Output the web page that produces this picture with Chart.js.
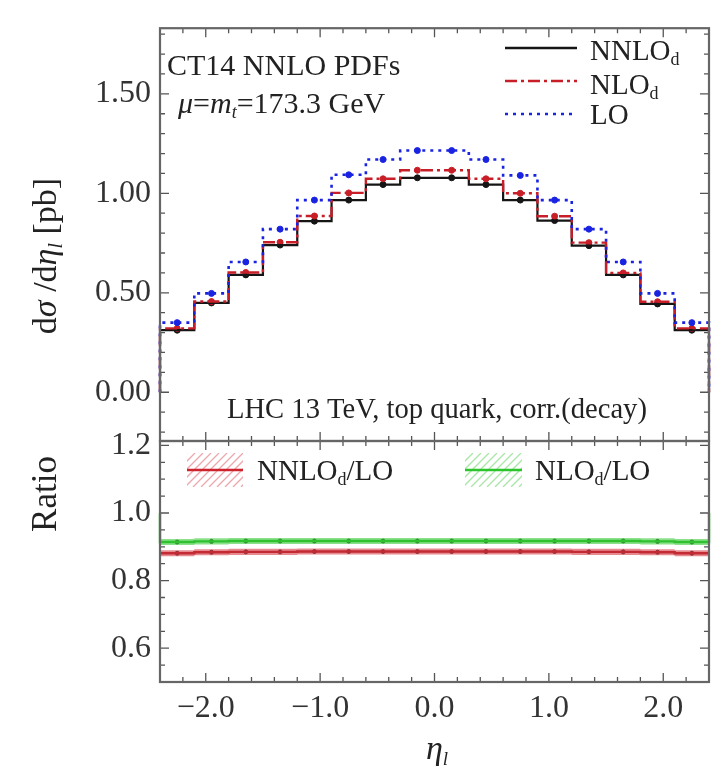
<!DOCTYPE html>
<html><head><meta charset="utf-8">
<script src="https://cdn.jsdelivr.net/npm/chart.js@4.4.1/dist/chart.umd.min.js"></script>
<style>
html,body{margin:0;padding:0;background:#fff;}
#wrap{position:relative;width:714px;height:768px;background:#fff;}
canvas{position:absolute;left:0;top:0;}
</style></head><body>
<div id="wrap"><canvas id="topc" width="714" height="768"></canvas><canvas id="botc" width="714" height="768"></canvas></div>
<script>
// ---- data ----
const binEdges = [-2.4,-2.1,-1.8,-1.5,-1.2,-0.9,-0.6,-0.3,0,0.3,0.6,0.9,1.2,1.5,1.8,2.1,2.4];
const nnloD = [0.312,0.449,0.590,0.740,0.860,0.966,1.044,1.078,1.078,1.044,0.966,0.863,0.737,0.590,0.444,0.312];
const nloD  = [0.321,0.456,0.602,0.754,0.886,1.002,1.073,1.116,1.116,1.073,1.000,0.885,0.752,0.600,0.455,0.321];
const lo    = [0.350,0.497,0.655,0.820,0.966,1.093,1.170,1.215,1.215,1.170,1.090,0.966,0.820,0.655,0.497,0.350];
const ratioNNLO = [0.881,0.884,0.885,0.885,0.886,0.886,0.886,0.886,0.886,0.886,0.886,0.886,0.885,0.885,0.884,0.881];
const ratioNLO  = [0.914,0.916,0.917,0.917,0.917,0.917,0.917,0.917,0.917,0.917,0.917,0.917,0.917,0.917,0.916,0.914];
const ratioEdgeNLO = 1.0;
const yTicksTop = [0, 0.5, 1.0, 1.5];
const yTicksRatio = [0.6, 0.8, 1.0, 1.2];
const xTicks = [-2, -1, 0, 1, 2];
const bandHalf = 0.009;

// ---- helpers building library data from the arrays ----
function stepPts(vals, startY, endY){
  const pts = [{x: binEdges[0], y: startY}];
  vals.forEach((v,i)=>{ pts.push({x: binEdges[i], y: v}); pts.push({x: binEdges[i+1], y: v}); });
  pts.push({x: binEdges[binEdges.length-1], y: endY});
  return pts;
}
function stepPlain(vals){
  const pts = [];
  vals.forEach((v,i)=>{ pts.push({x: binEdges[i], y: v}); pts.push({x: binEdges[i+1], y: v}); });
  return pts;
}
function centers(vals){ return vals.map((v,i)=>({x:(binEdges[i]+binEdges[i+1])/2, y:v})); }
function shift(vals, d){ return vals.map(v=>v+d); }

const BLUE = 'rgb(25,35,225)', RED = 'rgb(200,30,40)', BLACK = '#151515';
const SERIF = '"Liberation Serif", "Times New Roman", serif';
const R = n => `${n}px ${SERIF}`, I = n => `italic ${n}px ${SERIF}`;

function richWidth(ctx, parts){ let w=0; for(const p of parts){ ctx.font=p.f; w+=ctx.measureText(p.t).width; } return w; }
function drawRich(ctx, parts, x, y, align){
  const w = richWidth(ctx, parts);
  let cx = align==='center' ? x-w/2 : (align==='right' ? x-w : x);
  ctx.textBaseline='alphabetic'; ctx.textAlign='left';
  for(const p of parts){ ctx.font=p.f; ctx.fillText(p.t, cx, y+(p.dy||0)); cx += ctx.measureText(p.t).width; }
}

function framePlugin(cfg){
  return {
    id:'frame'+cfg.name,
    afterDraw(chart){
      const ctx = chart.ctx, a = chart.chartArea, xs = chart.scales.x, ys = chart.scales.y;
      ctx.save();
      ctx.strokeStyle = '#555'; ctx.lineWidth = 1.3;
      for(let k=-24;k<=24;k+=2){
        const v = k/10, px = xs.getPixelForValue(v);
        if(px < a.left+1 || px > a.right-1) continue;
        const major = (k%10===0), L = major?9:5;
        ctx.beginPath(); ctx.moveTo(px,a.bottom); ctx.lineTo(px,a.bottom-L);
        ctx.moveTo(px,a.top); ctx.lineTo(px,a.top+L); ctx.stroke();
      }
      for(let v=cfg.yMinor0; v<=ys.max+1e-9; v+=cfg.yMinor){
        const py = ys.getPixelForValue(v);
        if(py < a.top+1 || py > a.bottom-1) continue;
        const major = cfg.yMajor.some(m=>Math.abs(m-v)<1e-6), L = major?9:5;
        ctx.beginPath(); ctx.moveTo(a.left,py); ctx.lineTo(a.left+L,py);
        ctx.moveTo(a.right,py); ctx.lineTo(a.right-L,py); ctx.stroke();
      }
      ctx.strokeStyle = '#666'; ctx.lineWidth = 2.2;
      ctx.strokeRect(a.left, a.top, a.right-a.left, a.bottom-a.top);
      ctx.fillStyle = '#222';
      cfg.draw(ctx, chart);
      ctx.restore();
    }
  };
}

const tickFont = {family: SERIF, size: 32};

// ---------- top panel ----------
new Chart(document.getElementById('topc'), {
  type:'line',
  data:{ datasets:[
    {label:'LO', data: stepPts(lo,0,0), borderColor:BLUE, borderWidth:2.6, borderDash:[3,5], pointRadius:0, fill:false, tension:0},
    {label:'NLOd', data: stepPts(nloD,0,0), borderColor:RED, borderWidth:2.4, borderDash:[12,4,3,4], pointRadius:0, fill:false, tension:0},
    {label:'NNLOd', data: stepPts(nnloD,0,0), borderColor:BLACK, borderWidth:2.2, pointRadius:0, fill:false, tension:0},
    {label:'LO pts', data: centers(lo), showLine:false, pointRadius:3, pointBackgroundColor:BLUE, pointBorderColor:BLUE},
    {label:'NLO pts', data: centers(nloD), showLine:false, pointRadius:3, pointBackgroundColor:RED, pointBorderColor:RED},
    {label:'NNLO pts', data: centers(nnloD), showLine:false, pointRadius:3, pointBackgroundColor:BLACK, pointBorderColor:BLACK}
  ]},
  options:{
    responsive:false, animation:false, clip:false,
    layout:{padding:{top:16, right:1, bottom:327, left:0}},
    plugins:{legend:{display:false}, tooltip:{enabled:false}},
    scales:{
      x:{type:'linear', min:-2.4, max:2.4, display:false},
      y:{type:'linear', min:-0.245, max:1.83,
         afterBuildTicks: s => { s.ticks = yTicksTop.map(v=>({value:v})); },
         afterFit: s => { s.width = 160; },
         grid:{display:false, drawTicks:false}, border:{display:false},
         ticks:{font:tickFont, color:'#333', padding:9, autoSkip:false, callback:v=>Number(v).toFixed(2)}}
    }
  },
  plugins:[framePlugin({name:'top', yMinor0:-0.2, yMinor:0.1, yMajor:yTicksTop, draw(ctx){
    drawRich(ctx,[{t:'CT14 NNLO PDFs',f:R(30)}],167,75,'left');
    drawRich(ctx,[{t:'μ',f:I(30)},{t:'=',f:R(30)},{t:'m',f:I(30)},{t:'t',f:I(18),dy:5},{t:'=173.3 GeV',f:R(30)}],178,113,'left');
    drawRich(ctx,[{t:'LHC 13 TeV, top quark, corr.(decay)',f:R(28.6)}],227,418,'left');
    const rows = [{y:48, c:BLACK, d:[], w:2.4, p:[{t:'NNLO',f:R(29)},{t:'d',f:R(18),dy:5}], by:60},
                  {y:81, c:RED, d:[12,4,3,4], w:2.4, p:[{t:'NLO',f:R(29)},{t:'d',f:R(18),dy:5}], by:94},
                  {y:114, c:BLUE, d:[3,5], w:2.6, p:[{t:'LO',f:R(29)}], by:124}];
    for(const r of rows){
      ctx.save(); ctx.strokeStyle=r.c; ctx.lineWidth=r.w; ctx.setLineDash(r.d);
      ctx.beginPath(); ctx.moveTo(505,r.y); ctx.lineTo(577,r.y); ctx.stroke(); ctx.restore();
      drawRich(ctx, r.p, 590, r.by, 'left');
    }
    ctx.save(); ctx.translate(56,256); ctx.rotate(-Math.PI/2);
    drawRich(ctx,[{t:'d',f:R(34)},{t:'σ',f:I(34)},{t:' /d',f:R(34)},{t:'η',f:I(34)},{t:'l',f:I(20),dy:6},{t:' [pb]',f:R(34)}],0,0,'center');
    ctx.restore();
  }})]
});

// ---------- ratio panel ----------
new Chart(document.getElementById('botc'), {
  type:'line',
  data:{ datasets:[
    {label:'NNLOd/LO up', data: stepPlain(shift(ratioNNLO,bandHalf)), borderColor:'rgba(0,0,0,0)', borderWidth:0, pointRadius:0, fill:'+1', backgroundColor:'rgba(215,60,70,0.6)'},
    {label:'NNLOd/LO lo', data: stepPlain(shift(ratioNNLO,-bandHalf)), borderColor:'rgba(0,0,0,0)', borderWidth:0, pointRadius:0, fill:false},
    {label:'NLOd/LO up', data: stepPlain(shift(ratioNLO,bandHalf)), borderColor:'rgba(0,0,0,0)', borderWidth:0, pointRadius:0, fill:'+1', backgroundColor:'rgba(60,205,60,0.6)'},
    {label:'NLOd/LO lo', data: stepPlain(shift(ratioNLO,-bandHalf)), borderColor:'rgba(0,0,0,0)', borderWidth:0, pointRadius:0, fill:false},
    {label:'NNLOd/LO', data: stepPlain(ratioNNLO), borderColor:'rgb(165,15,25)', borderWidth:2.4, pointRadius:0, fill:false},
    {label:'NLOd/LO', data: stepPts(ratioNLO, ratioEdgeNLO, ratioEdgeNLO), borderColor:'rgb(30,175,30)', borderWidth:2.4, pointRadius:0, fill:false},
    {label:'NNLO r pts', data: centers(ratioNNLO), showLine:false, pointRadius:2, pointBackgroundColor:'#222', pointBorderColor:'#222'},
    {label:'NLO r pts', data: centers(ratioNLO), showLine:false, pointRadius:2, pointBackgroundColor:'#222', pointBorderColor:'#222'}
  ]},
  options:{
    responsive:false, animation:false, clip:false,
    layout:{padding:{top:441, right:1, bottom:0, left:0}},
    plugins:{legend:{display:false}, tooltip:{enabled:false}, filler:{propagate:false}},
    scales:{
      x:{type:'linear', min:-2.4, max:2.4,
         afterBuildTicks: s => { s.ticks = xTicks.map(v=>({value:v})); },
         afterFit: s => { s.height = 86; },
         grid:{display:false, drawTicks:false}, border:{display:false},
         ticks:{font:tickFont, color:'#333', padding:7, autoSkip:false, maxRotation:0,
                callback:v=>(v<0?'\u2212':'')+Math.abs(v).toFixed(1)}},
      y:{type:'linear', min:0.5, max:1.213,
         afterBuildTicks: s => { s.ticks = yTicksRatio.map(v=>({value:v})); },
         afterFit: s => { s.width = 160; },
         grid:{display:false, drawTicks:false}, border:{display:false},
         ticks:{font:tickFont, color:'#333', padding:9, autoSkip:false, callback:v=>Number(v).toFixed(1)}}
    }
  },
  plugins:[framePlugin({name:'bot', yMinor0:0.5, yMinor:0.05, yMajor:yTicksRatio, draw(ctx){
    function hatch(x,y,w,h,col,line){
      ctx.save(); ctx.beginPath(); ctx.rect(x,y,w,h); ctx.clip();
      ctx.strokeStyle=col; ctx.lineWidth=1.3;
      for(let k=-h;k<w+h;k+=8){ ctx.beginPath(); ctx.moveTo(x+k,y+h); ctx.lineTo(x+k+h,y); ctx.stroke(); }
      ctx.restore();
      ctx.save(); ctx.strokeStyle=line; ctx.lineWidth=2.6; ctx.beginPath(); ctx.moveTo(x,y+h/2); ctx.lineTo(x+w,y+h/2); ctx.stroke(); ctx.restore();
    }
    hatch(187,453,56,34,'rgba(225,110,120,0.6)','rgb(205,35,45)');
    hatch(465,453,57,34,'rgba(110,215,110,0.6)','rgb(45,195,45)');
    ctx.fillStyle='#222';
    drawRich(ctx,[{t:'NNLO',f:R(29)},{t:'d',f:R(18),dy:5},{t:'/LO',f:R(29)}],257,480,'left');
    drawRich(ctx,[{t:'NLO',f:R(29)},{t:'d',f:R(18),dy:5},{t:'/LO',f:R(29)}],535,480,'left');
    ctx.save(); ctx.translate(56,494); ctx.rotate(-Math.PI/2);
    drawRich(ctx,[{t:'Ratio',f:R(35)}],0,0,'center'); ctx.restore();
    drawRich(ctx,[{t:'η',f:I(34)},{t:'l',f:I(19),dy:6},],437,759,'center');
  }})]
});
</script>
</body></html>
